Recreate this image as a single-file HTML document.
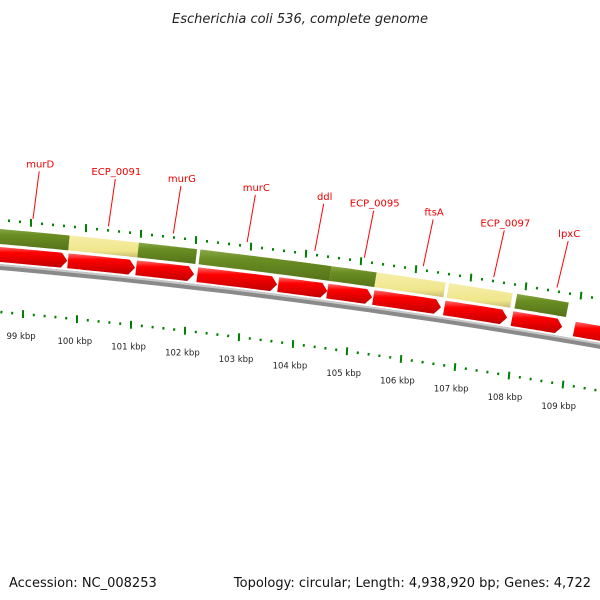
<!DOCTYPE html>
<html><head><meta charset="utf-8"><style>
html,body{margin:0;padding:0;background:#fff}
svg{display:block;font-family:"DejaVu Sans","Liberation Sans",sans-serif}
</style></head><body>
<svg id="map" width="600" height="600" viewBox="0 0 600 600">
<defs>
<linearGradient id="gg" x1="0" y1="0" x2="0" y2="1"><stop offset="0" stop-color="#8aa84a"/><stop offset="0.3" stop-color="#6b8e23"/><stop offset="1" stop-color="#55731a"/></linearGradient>
<linearGradient id="yg" x1="0" y1="0" x2="0" y2="1"><stop offset="0" stop-color="#f6eeaa"/><stop offset="0.7" stop-color="#f0e68c"/><stop offset="1" stop-color="#c8bf70"/></linearGradient>
<linearGradient id="rg" x1="0" y1="0" x2="0" y2="1"><stop offset="0" stop-color="#ff7070"/><stop offset="0.3" stop-color="#ff0000"/><stop offset="1" stop-color="#c00000"/></linearGradient>
</defs>
<text x="300" y="23" text-anchor="middle" font-size="13" font-style="italic" fill="#222">Escherichia coli 536, complete genome</text>
<g id="layer"></g>
<text x="9" y="587" font-size="13" fill="#111">Accession: NC_008253</text>
<text x="591" y="587" text-anchor="end" font-size="13" fill="#111">Topology: circular; Length: 4,938,920 bp; Genes: 4,722</text>
</svg>
<script>
const featStart=[98.3,99.72,100.98,102.10,104.49,105.31,106.63,107.87];
const featEnd=[99.72,100.98,102.04,104.49,105.31,106.57,107.79,108.81];
const featType=["green","yellow","green","green","green","yellow","yellow","green"];
const cdsStart=[98.3,99.73,100.98,102.10,103.58,104.48,105.32,106.62,107.86,109.00];
const cdsEnd=[99.72,100.96,102.04,103.56,104.48,105.30,106.56,107.77,108.78,109.95];
const geneNames=["murD","ECP_0091","murG","murC","ddl","ECP_0095","ftsA","ECP_0097","lpxC"];
const genePos=[99.03,100.40,101.58,102.92,104.15,105.05,106.12,107.40,108.55];
const tickKbp=[98,99,100,101,102,103,104,105,106,107,108,109,110];
const labelKbp=[99,100,101,102,103,104,105,106,107,108,109];

const NS="http://www.w3.org/2000/svg";
const layer=document.getElementById('layer');
function yc(x){return 0.088*x+7.25e-5*x*x;}
function px(k,o){const x0=31-8*(o+9)/92, s=55-(o+9)/92; return x0+s*(k-99);}
function pt(k,o){const x=px(k,o);return [x,229+yc(x)+o];}
function mk(tag,attrs,name){const e=document.createElementNS(NS,tag);for(const a in attrs)e.setAttribute(a,attrs[a]);


layer.appendChild(e);return e;}
function band(k1,k2,o1,o2,arrow){
  const pts=[];const n=20;
  const head=0.11;
  const ke=arrow?k2-head:k2;
  for(let i=0;i<=n;i++){pts.push(pt(k1+(ke-k1)*i/n,o1));}
  if(arrow){pts.push(pt(k2,(o1+o2)/2));}
  for(let i=n;i>=0;i--){pts.push(pt(k1+(ke-k1)*i/n,o2));}
  return pts.map(p=>p[0].toFixed(1)+','+p[1].toFixed(1)).join(' ');
}
// backbone ring
mk('polygon',{points:band(97.5,110.5,35,41,false),fill:'#8a8a8a'},'backbone-ring');
mk('polygon',{points:band(97.5,110.5,35,37,false),fill:'#c8c8c8'},'backbone-highlight');
// features
for(let i=0;i<featStart.length;i++){
  mk('polygon',{points:band(featStart[i],featEnd[i],0,15,false),fill:featType[i]==='green'?'url(#gg)':'url(#yg)'},'feature-'+featType[i]);
}
// CDS arrows
for(let i=0;i<cdsStart.length;i++){
  mk('polygon',{points:band(cdsStart[i],cdsEnd[i],18,33,true),fill:'url(#rg)'},'cds-arrow');
}
// ticks
function ticks(o,name){
  for(let t=0;t<tickKbp.length-1;t++){
    for(let m=0;m<5;m++){
      const k=tickKbp[t]+m*0.2;
      if(m===0){const a=pt(k,o-4),b=pt(k,o+4);
        mk('line',{x1:a[0]-0.4,y1:a[1],x2:b[0]+0.4,y2:b[1],stroke:'#008000','stroke-width':2},name+'-major');}
      else{const a=pt(k,o-1.3),b=pt(k,o+1.3);
        mk('line',{x1:a[0],y1:a[1],x2:b[0],y2:b[1],stroke:'#008000','stroke-width':2},name+'-minor');}
    }
  }
}
ticks(-9,'outer-tick');
ticks(83,'inner-tick');
for(const k of labelKbp){
  const p=pt(k,105);
  const t=mk('text',{x:p[0].toFixed(1),y:(p[1]+3).toFixed(1),'text-anchor':'middle','font-size':'8.5',fill:'#222'},'kbp-label');
  t.textContent=k+' kbp';
}
// gene labels
for(let i=0;i<geneNames.length;i++){
  const a=pt(genePos[i],-13), b=pt(genePos[i],-61);
  mk('line',{x1:a[0],y1:a[1],x2:b[0]+2,y2:b[1],stroke:'#ff0000','stroke-width':1},'gene-label-line');
  const t=mk('text',{x:(b[0]+3).toFixed(1),y:(b[1]-4).toFixed(1),'text-anchor':'middle','font-size':'10',fill:'#ee0000'},'gene-label');
  t.textContent=geneNames[i];
}
</script>
</body></html>
